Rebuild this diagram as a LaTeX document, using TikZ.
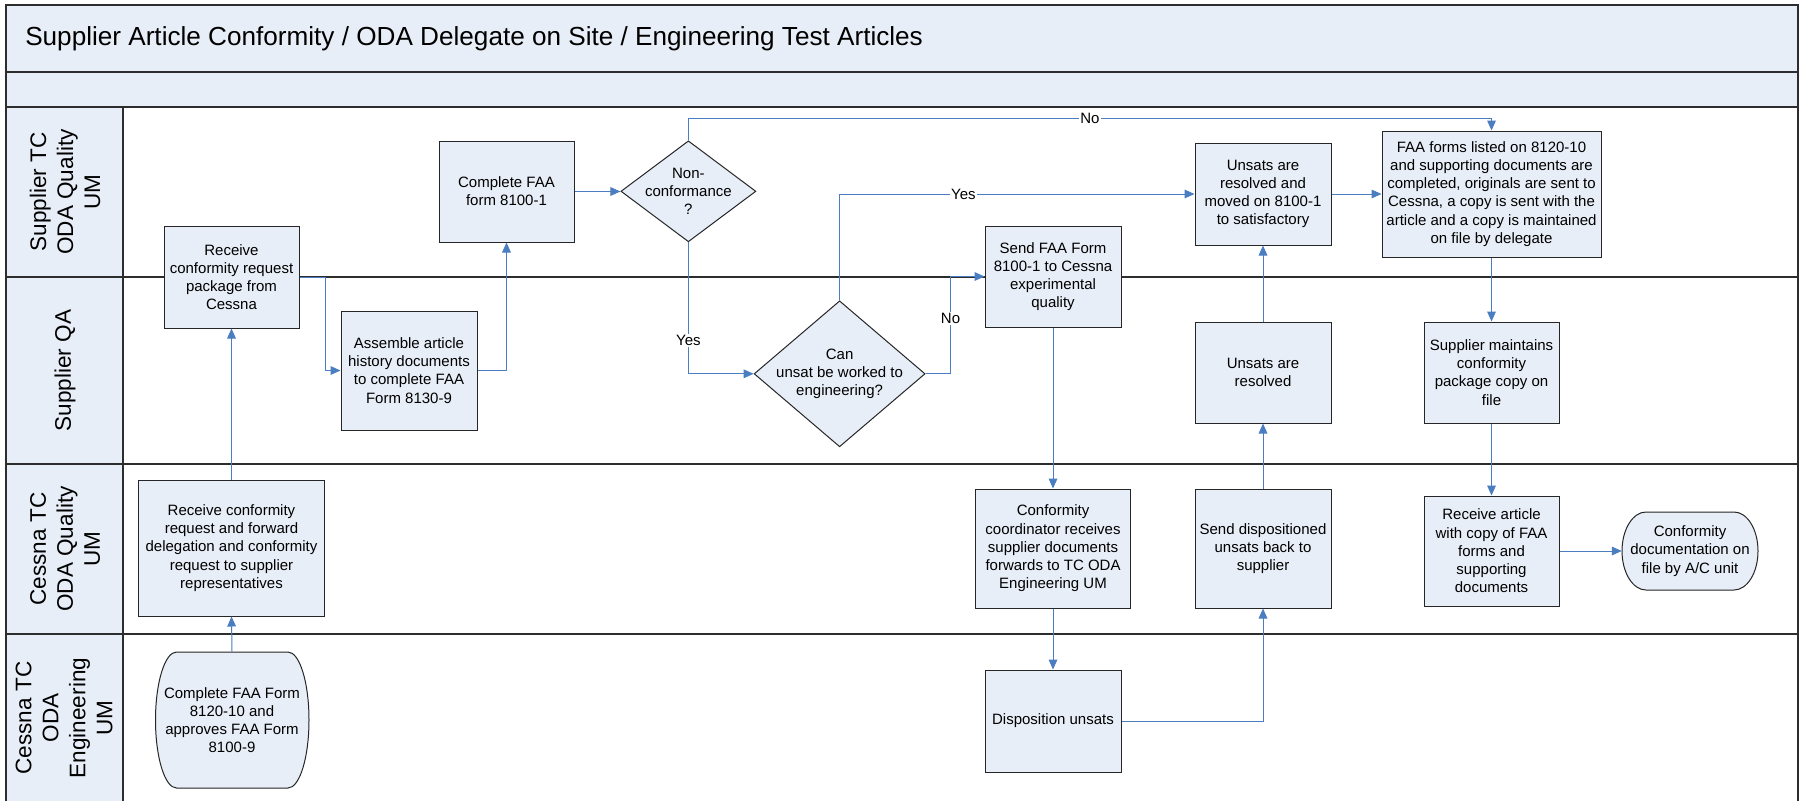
\documentclass[tikz,border=0pt]{standalone}
\usepackage{fontspec}
\setmainfont{Liberation Sans}
\usetikzlibrary{arrows.meta,shapes.geometric}
\definecolor{boxfill}{RGB}{232,238,247}
\definecolor{connblue}{RGB}{74,126,193}
\definecolor{laneline}{RGB}{45,45,45}
\tikzset{
  boxline/.style={draw=black!85, line width=0.75pt, fill=boxfill},
  box/.style={boxline, align=center, inner sep=0pt, font=\fontsize{11.25pt}{13.65pt}\selectfont},
  txt/.style={align=center, inner sep=0pt, font=\fontsize{11.25pt}{13.65pt}\selectfont},
  dia/.style={boxline, diamond, inner sep=0pt},
  flow/.style={draw=connblue, line width=0.75pt, -{Triangle[length=7.5pt,width=6.5pt]}},
  lbl/.style={fill=white, inner sep=1pt, text=black, font=\fontsize{11.25pt}{13.65pt}\selectfont},
  lane/.style={draw=laneline, line width=1.2pt},
  lanetext/.style={rotate=90, align=center, inner sep=0pt, font=\fontsize{16.9pt}{20.25pt}\selectfont},
}
\begin{document}
\begin{tikzpicture}[x=0.75pt,y=-0.75pt]
\useasboundingbox (0,0) rectangle (1801,800);
% backgrounds
\fill[white] (0,0) rectangle (1801,800);
\fill[boxfill] (6,5) rectangle (1798,107);
\fill[boxfill] (6,107) rectangle (123,812);
% lane lines
\draw[lane] (6,812) -- (6,5) -- (1798,5) -- (1798,812);
\draw[lane] (6,72) -- (1798,72);
\draw[lane] (6,107) -- (1798,107);
\draw[lane] (6,277) -- (1798,277);
\draw[lane] (6,464) -- (1798,464);
\draw[lane] (6,634) -- (1798,634);
\draw[lane] (123,107) -- (123,812);
% title and lane labels
\node[anchor=west, inner sep=0pt, font=\fontsize{19.6pt}{22pt}\selectfont] (title) at (25,38.7) {Supplier Article Conformity / ODA Delegate on Site / Engineering Test Articles};
\node[lanetext] (l1) at (65,192) {Supplier TC\\ODA Quality\\UM};
\node[lanetext] (l2) at (65,370.5) {Supplier QA};
\node[lanetext] (l3) at (65,549) {Cessna TC\\ODA Quality\\UM};
\node[lanetext] (l4) at (64,718) {Cessna TC\\ODA\\Engineering\\UM};
% terminator outlines
\draw[boxline] (176.5,652) -- (288,652) arc[start angle=90,end angle=-90,x radius=15.75pt,y radius=51pt] -- (176.5,788) arc[start angle=270,end angle=90,x radius=15.75pt,y radius=51pt] -- cycle;
\draw[boxline] (1646,512) -- (1734,512) arc[start angle=90,end angle=-90,x radius=18pt,y radius=29.25pt] -- (1646,590) arc[start angle=270,end angle=90,x radius=18pt,y radius=29.25pt] -- cycle;
% nodes
\node[box, minimum width=101.25pt, minimum height=76.5pt] (recv) at (231.5,277) {Receive\\conformity request\\package from\\Cessna};
\node[box, minimum width=102pt, minimum height=89.25pt] (asm) at (409,370.5) {Assemble article\\history documents\\to complete FAA\\Form 8130-9};
\node[box, minimum width=101.25pt, minimum height=75.75pt] (c8100) at (506.5,191.5) {Complete FAA\\form 8100-1};
\node[dia, minimum width=101.25pt, minimum height=75.75pt] (nc) at (688.4,191.3) {};
\node[txt] (nctext) at (nc) {Non-\\conformance\\?};
\node[dia, minimum width=128.25pt, minimum height=109.5pt] (cu) at (839.6,373.8) {};
\node[txt] (cutext) at (cu) {Can\\unsat be worked to\\engineering?};
\node[box, minimum width=102pt, minimum height=75.75pt] (send) at (1053,276.5) {Send FAA Form\\8100-1 to Cessna\\experimental\\quality};
\node[box, minimum width=102pt, minimum height=76.5pt] (unsmov) at (1263,194) {Unsats are\\resolved and\\moved on 8100-1\\to satisfactory};
\node[box, minimum width=164.25pt, minimum height=94.5pt] (faa) at (1491.5,194) {FAA forms listed on 8120-10\\and supporting documents are\\completed, originals are sent to\\Cessna, a copy is sent with the\\article and a copy is maintained\\on file by delegate};
\node[box, minimum width=102pt, minimum height=75.75pt] (unsres) at (1263,372.5) {Unsats are\\resolved};
\node[box, minimum width=101.25pt, minimum height=75.75pt] (supm) at (1491.5,372.5) {Supplier maintains\\conformity\\package copy on\\file};
\node[box, minimum width=139.5pt, minimum height=102pt] (recvreq) at (231.5,548) {Receive conformity\\request and forward\\delegation and conformity\\request to supplier\\representatives};
\node[box, minimum width=116.25pt, minimum height=89.25pt] (coord) at (1053,548.5) {Conformity\\coordinator receives\\supplier documents\\forwards to TC ODA\\Engineering UM};
\node[box, minimum width=102pt, minimum height=89.25pt] (sdisp) at (1263,548.5) {Send dispositioned\\unsats back to\\supplier};
\node[box, minimum width=101.25pt, minimum height=82.5pt] (rart) at (1491.5,551) {Receive article\\with copy of FAA\\forms and\\supporting\\documents};
\node[txt, minimum width=102pt, minimum height=58.5pt] (cdoc) at (1690,551) {Conformity\\documentation on\\file by A/C unit};
\node[txt, minimum width=114.75pt, minimum height=102pt] (c8120) at (232,720) {Complete FAA Form\\8120-10 and\\approves FAA Form\\8100-9};
\node[box, minimum width=102pt, minimum height=76.5pt] (dispo) at (1053,721) {Disposition unsats};
% connectors
\coordinate (noY) at (0,118);
\coordinate (noX) at (950.5,0);
\draw[flow] (c8120.north) -- (recvreq.south);
\draw[flow] (recvreq.north) -- (recv.south);
\draw[flow] (recv.east) -- ++(25.5,0) |- (asm.west);
\draw[flow] (asm.east) -| (c8100.south);
\draw[flow] (c8100.east) -- (c8100.east -| nc.west);
\draw[flow] (nc.north) -- (nc.north |- noY) -- node[lbl]{No} (faa.north |- noY) -- (faa.north);
\draw[flow] (nc.south) -- node[lbl, pos=0.745]{Yes} (nc.south |- cu.west) -- (cu.west);
\draw[flow] (cu.north) -- (cu.north |- unsmov.west) -- node[lbl, pos=0.349]{Yes} (unsmov.west);
\draw[flow] (cu.east) -- (cu.east -| noX) -- node[lbl, pos=0.565]{No} (noX |- send.west) -- (send.west);
\draw[flow] (send.south) -- (coord.north);
\draw[flow] (coord.south) -- (dispo.north);
\draw[flow] (dispo.east) -| (sdisp.south);
\draw[flow] (sdisp.north) -- (unsres.south);
\draw[flow] (unsres.north) -- (unsmov.south);
\draw[flow] (unsmov.east) -- (faa.west);
\draw[flow] (faa.south) -- (supm.north);
\draw[flow] (supm.south) -- (rart.north);
\draw[flow] (rart.east) -- (cdoc.west);
\end{tikzpicture}
\end{document}
